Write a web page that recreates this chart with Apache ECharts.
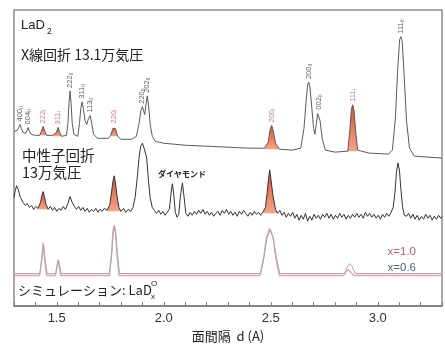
<!DOCTYPE html>
<html>
<head>
<meta charset="utf-8">
<script src="https://cdn.jsdelivr.net/npm/echarts@6/dist/echarts.min.js"></script>
<style>
  html, body { margin: 0; padding: 0; background: #fff; }
  #chart { width: 445px; height: 348px; }
</style>
</head>
<body>
<div id="chart"></div>
<script>
// d spacing (A) vs intensity (arbitrary, traces already offset)
const xray = [[1.300,177],[1.315,178],[1.322,181],[1.328,184],[1.334,180],[1.342,176],[1.355,175],[1.361,178],[1.366,181],[1.372,177],[1.380,174],[1.400,173],[1.420,173],[1.428,177],[1.436,182],[1.444,177],[1.452,173],[1.480,173],[1.498,176],[1.506,181],[1.514,176],[1.522,172],[1.545,173],[1.552,185],[1.557,205],[1.562,218],[1.567,205],[1.572,185],[1.580,174],[1.598,172],[1.606,185],[1.612,200],[1.618,207],[1.624,200],[1.632,188],[1.640,184],[1.648,190],[1.656,193],[1.663,185],[1.672,174],[1.690,170],[1.740,170],[1.752,173],[1.762,180],[1.768,182],[1.774,180],[1.784,172],[1.800,169],[1.850,169],[1.872,172],[1.884,185],[1.893,198],[1.900,202],[1.907,197],[1.911,194],[1.917,205],[1.923,213],[1.929,203],[1.936,185],[1.946,172],[1.960,167],[2.000,165],[2.100,163],[2.200,162],[2.300,161],[2.400,160],[2.470,160],[2.488,166],[2.498,180],[2.504,183],[2.510,179],[2.522,165],[2.540,159],[2.600,158],[2.640,160],[2.655,180],[2.665,208],[2.672,224],[2.677,227],[2.683,222],[2.692,200],[2.700,180],[2.706,174],[2.713,185],[2.719,195],[2.724,196],[2.730,188],[2.740,170],[2.755,158],[2.800,156],[2.860,157],[2.870,180],[2.877,200],[2.883,204],[2.889,198],[2.896,178],[2.906,158],[2.960,155],[3.050,154],[3.068,158],[3.082,190],[3.093,240],[3.102,270],[3.108,273],[3.114,268],[3.123,235],[3.134,188],[3.148,160],[3.170,152],[3.230,151],[3.300,150]];

const neutron = [[1.300,110],[1.305,116],[1.312,122],[1.320,118],[1.330,110],[1.342,105],[1.352,102],[1.362,104],[1.372,100],[1.382,102],[1.392,98],[1.402,101],[1.412,99],[1.424,105],[1.430,112],[1.436,116],[1.442,111],[1.450,103],[1.460,98],[1.470,101],[1.480,97],[1.490,100],[1.500,96],[1.510,99],[1.520,97],[1.530,101],[1.540,98],[1.552,104],[1.562,111],[1.572,105],[1.582,101],[1.592,98],[1.602,101],[1.612,97],[1.622,100],[1.632,96],[1.642,99],[1.652,95],[1.662,98],[1.672,96],[1.682,99],[1.692,95],[1.702,98],[1.712,96],[1.722,99],[1.735,97],[1.748,103],[1.756,116],[1.762,126],[1.768,132],[1.774,125],[1.781,112],[1.790,100],[1.800,96],[1.812,99],[1.822,95],[1.834,98],[1.846,96],[1.856,100],[1.866,110],[1.876,130],[1.884,150],[1.892,162],[1.900,165],[1.908,160],[1.914,162],[1.920,150],[1.928,128],[1.936,110],[1.946,100],[1.956,97],[1.966,94],[1.976,97],[1.986,93],[1.996,96],[2.006,92],[2.016,95],[2.026,98],[2.034,115],[2.040,124],[2.046,114],[2.054,95],[2.062,90],[2.070,93],[2.077,110],[2.087,125],[2.095,110],[2.103,94],[2.113,91],[2.123,95],[2.133,92],[2.143,96],[2.153,93],[2.163,97],[2.173,94],[2.183,98],[2.193,93],[2.203,96],[2.213,92],[2.223,95],[2.233,91],[2.243,94],[2.253,96],[2.263,92],[2.273,97],[2.283,94],[2.293,98],[2.303,93],[2.313,96],[2.323,92],[2.333,95],[2.343,91],[2.353,96],[2.363,93],[2.373,97],[2.383,94],[2.393,91],[2.403,95],[2.413,92],[2.423,96],[2.433,93],[2.443,95],[2.453,92],[2.465,96],[2.475,100],[2.483,115],[2.490,130],[2.495,138],[2.501,128],[2.510,112],[2.522,98],[2.532,94],[2.542,97],[2.552,92],[2.562,95],[2.572,90],[2.582,94],[2.592,91],[2.602,95],[2.612,89],[2.622,93],[2.632,87],[2.642,92],[2.652,88],[2.662,94],[2.672,86],[2.682,91],[2.692,87],[2.702,93],[2.712,89],[2.722,92],[2.732,88],[2.742,93],[2.752,90],[2.762,94],[2.772,89],[2.782,93],[2.792,88],[2.802,92],[2.812,89],[2.822,94],[2.832,90],[2.842,93],[2.852,88],[2.862,92],[2.872,89],[2.882,93],[2.892,90],[2.902,94],[2.912,90],[2.922,93],[2.932,89],[2.942,95],[2.952,91],[2.962,94],[2.972,90],[2.982,93],[2.992,89],[3.002,92],[3.012,88],[3.022,93],[3.032,90],[3.042,94],[3.052,91],[3.062,95],[3.072,100],[3.080,115],[3.087,135],[3.094,145],[3.101,138],[3.108,118],[3.116,100],[3.124,92],[3.134,91],[3.144,94],[3.154,89],[3.164,93],[3.174,88],[3.184,92],[3.194,87],[3.204,91],[3.214,88],[3.224,93],[3.234,89],[3.244,92],[3.254,87],[3.264,91],[3.274,88],[3.284,92],[3.294,89],[3.300,91]];

const simX10 = [[1.300,31],[1.420,31],[1.428,45],[1.436,64],[1.444,45],[1.452,31],[1.494,31],[1.500,40],[1.506,47],[1.512,40],[1.518,31],[1.745,31],[1.755,52],[1.762,75],[1.768,82],[1.774,75],[1.781,52],[1.791,31],[2.450,31],[2.466,48],[2.480,70],[2.495,79],[2.510,70],[2.524,48],[2.540,31],[2.840,31],[2.852,35],[2.862,37],[2.874,34],[2.890,31],[3.300,31]];
const simX06 = [[1.300,33],[1.421,33],[1.430,47],[1.438,62],[1.446,47],[1.455,33],[1.496,33],[1.502,41],[1.508,46],[1.514,41],[1.520,33],[1.747,33],[1.757,53],[1.764,74],[1.770,80],[1.776,74],[1.783,53],[1.793,33],[2.452,33],[2.468,49],[2.482,69],[2.497,77],[2.512,69],[2.526,49],[2.542,33],[2.845,33],[2.858,40],[2.868,43],[2.880,40],[2.895,33],[3.300,33]];

// red-filled (phase I) peaks: d ranges on each trace
const xrayRed = [[1.420,1.452],[1.480,1.522],[1.752,1.784],[2.470,2.540],[2.860,2.906]];
const neutronRed = [[1.412,1.460],[1.735,1.800],[2.465,2.532]];

// peak index labels on the X-ray trace
const peakD = [1.328,1.366,1.436,1.506,1.562,1.618,1.656,1.768,1.900,1.923,2.504,2.677,2.724,2.883,3.108];
const peakHkl = ['400','004','222','311','222','311','113','220','220','202','200','200','002','111','111'];
const peakPhase = ['II','II','I','I','II','II','II','I','II','II','I','II','II','I','II'];

const tickLabels = ['1.5','2.0','2.5','3.0'];
const simNames = ['x=1.0','x=0.6'];

const RED = '#e0504a';
const JP = '"Noto Sans CJK JP", sans-serif';

function slice(trace, r) {
  return trace.filter(p => p[0] >= r[0] - 1e-9 && p[0] <= r[1] + 1e-9);
}
function redSeries(trace, ranges) {
  return ranges.map(r => {
    const pts = slice(trace, r);
    const base = Math.min(pts[0][1], pts[pts.length - 1][1]);
    return {
      type: 'line', data: pts, symbol: 'none', silent: true,
      lineStyle: { width: 0 },
      areaStyle: {
        origin: base, opacity: 0.95,
        color: new echarts.graphic.LinearGradient(0, 0, 0, 1, [
          { offset: 0, color: '#e2432b' },
          { offset: 1, color: '#f6a07c' }
        ])
      }
    };
  });
}
function peakTop(d) {
  let m = -Infinity;
  xray.forEach(p => { if (Math.abs(p[0] - d) <= 0.0045) m = Math.max(m, p[1]); });
  return m;
}

const labelData = peakD.map((d, i) => ({
  value: [d, peakTop(d)],
  label: {
    formatter: '{n|' + peakHkl[i] + '}{s|' + peakPhase[i] + '}',
    rich: {
      n: { fontSize: 7.5, color: peakPhase[i] === 'I' ? RED : '#333', fontFamily: 'Liberation Sans' },
      s: { fontSize: 5, color: peakPhase[i] === 'I' ? RED : '#333', fontFamily: 'Liberation Sans', padding: [3, 0, 0, 0] }
    }
  }
}));

const chart = echarts.init(document.getElementById('chart'));
chart.setOption({
  animation: false,
  backgroundColor: '#fff',
  grid: { left: 14, right: 3, top: 10, bottom: 38, show: true, borderColor: '#8c8c8c', borderWidth: 1.5 },
  legend: {
    data: [
      { name: simNames[0], icon: 'none', textStyle: { color: '#d9566a' } },
      { name: simNames[1], icon: 'none', textStyle: { color: '#46678f' } }
    ],
    orient: 'vertical', right: 29, top: 246, itemWidth: 0, itemHeight: 10, itemGap: 4,
    padding: 0, selectedMode: false,
    textStyle: { fontSize: 11.5, fontFamily: 'Liberation Sans', padding: 0 }
  },
  xAxis: {
    type: 'value', min: 1.3, max: 3.3, interval: 0.1,
    splitLine: { show: false },
    axisLine: { lineStyle: { color: '#7a7a7a', width: 1.5 } },
    axisTick: { inside: true, length: 4, lineStyle: { color: '#7a7a7a' } },
    axisLabel: {
      color: '#333', fontSize: 13, fontFamily: 'Liberation Sans', margin: 6,
      formatter: v => tickLabels.includes(v.toFixed(1)) ? v.toFixed(1) : ''
    },
    name: '面間隔  d (A)', nameLocation: 'middle', nameGap: 23,
    nameTextStyle: { fontSize: 13, color: '#222', fontFamily: JP }
  },
  yAxis: { type: 'value', min: 0, max: 300, show: false },
  series: [
    ...redSeries(xray, xrayRed),
    ...redSeries(neutron, neutronRed),
    { type: 'line', data: xray, symbol: 'none', lineStyle: { color: '#5a5a5a', width: 1 } },
    { type: 'line', data: neutron, symbol: 'none', lineStyle: { color: '#333', width: 1 } },
    { name: simNames[0], type: 'line', data: simX10, symbol: 'none', lineStyle: { color: '#eba0a8', width: 1.3 } },
    { name: simNames[1], type: 'line', data: simX06, symbol: 'none', lineStyle: { color: '#a4a8b0', width: 1 } },
    {
      type: 'scatter', data: labelData, symbolSize: 0, silent: true,
      label: { show: true, position: 'top', distance: 3, rotate: 90, align: 'left', verticalAlign: 'middle' }
    }
  ],
  graphic: [
    { type: 'text', left: 21, top: 19, style: { text: 'LaD', fontSize: 13, fontFamily: 'Liberation Sans', fill: '#222' } },
    { type: 'text', left: 47, top: 27, style: { text: '2', fontSize: 8.5, fontFamily: 'Liberation Sans', fill: '#222' } },
    { type: 'text', left: 21, top: 48, style: { text: 'X線回折 13.1万気圧', fontSize: 14, fontFamily: JP, fill: '#222' } },
    { type: 'text', left: 22, top: 148, style: { text: '中性子回折', fontSize: 14.5, fontFamily: JP, fill: '#222' } },
    { type: 'text', left: 22, top: 165, style: { text: '13万気圧', fontSize: 14.5, fontFamily: JP, fill: '#222' } },
    { type: 'text', left: 158, top: 170, style: { text: 'ダイヤモンド', fontSize: 8, fontFamily: JP, fill: '#222', fontWeight: 'bold' } },
    { type: 'text', left: 18, top: 284, style: { text: 'シミュレーション: LaD', fontSize: 13, fontFamily: JP, fill: '#222' } },
    { type: 'text', left: 151, top: 280, style: { text: 'O', fontSize: 8, fontFamily: 'Liberation Sans', fill: '#222' } },
    { type: 'text', left: 151, top: 293, style: { text: 'x', fontSize: 8, fontFamily: 'Liberation Sans', fill: '#222' } }
  ]
});
</script>
</body>
</html>
